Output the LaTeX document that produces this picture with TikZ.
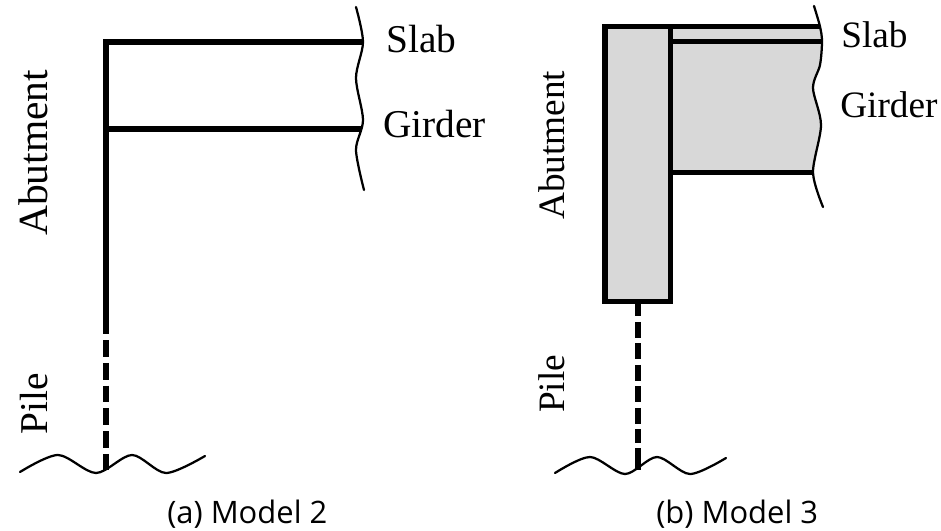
\documentclass[tikz,border=0pt]{standalone}
\usepackage{fontspec}
\setmainfont{Liberation Serif}
\newfontfamily\capfont{Open Sans}
\usetikzlibrary{positioning}
\definecolor{concrete}{HTML}{D8D8D8}
\tikzstyle{beam}=[draw=black, line width=3.8pt]
\tikzstyle{pilebar}=[draw=black, line width=3.8pt, dash pattern=on 12pt off 4.2pt]
\tikzstyle{pilebarb}=[draw=black, line width=3.8pt, dash pattern=on 11.4pt off 3.9pt, dash phase=2.6pt]
\tikzstyle{wave}=[draw=black, line width=1.6pt, line cap=round]
\tikzstyle{lbl}=[inner sep=0pt, anchor=base west, font=\fontsize{28}{30}\selectfont]
\tikzstyle{lblb}=[inner sep=0pt, anchor=base west, font=\fontsize{26.5}{30}\selectfont]
\tikzstyle{caption}=[inner sep=0pt, anchor=base west, font=\capfont\fontsize{22}{26}\selectfont]

\begin{document}
\begin{tikzpicture}[x=0.025cm, y=-0.025cm]
		\useasboundingbox (0,0) rectangle (941,531);

		% Model 2
		\coordinate (a1) at (106,42);
		\coordinate (a2) at (363,42);
		\coordinate (a3) at (106,129);
		\coordinate (a4) at (362,129);
		\coordinate (a5) at (106,334);
		\coordinate (a6) at (106,340);
		\coordinate (a7) at (106,470);

		\draw[style=beam] (a2) to (a1) to (a5);
		\draw[style=beam] (a3) to (a4);
		\draw[style=pilebar] (a6) to (a7);
		\draw[style=wave] plot[smooth] coordinates {(356,7) (363,42) (356,78) (363,120) (356,150) (364,190)};
		\draw[style=wave] plot[smooth] coordinates {(20,472) (58,455) (96,473) (132,455) (166,473) (205,456)};

		\node[style=lbl] (slabA) at (386,53) {Slab};
		\node[style=lbl] (girderA) at (383,138) {Girder};
		\node[style=lbl, rotate=90, font=\fontsize{29.5}{30}\selectfont] (abutA) at (47,236) {Abutment};
		\node[style=lbl, rotate=90] (pileA) at (47,435) {Pile};
		\node[style=caption] (capA) at (167,523.5) {(a) Model 2};

		% Model 3
		\coordinate (b1) at (605,26.5);
		\coordinate (b2) at (670.5,26.5);
		\coordinate (b3) at (820,26.5);
		\coordinate (b4) at (670.5,41.5);
		\coordinate (b5) at (822,41.5);
		\coordinate (b6) at (670.5,172.5);
		\coordinate (b7) at (813,172.5);
		\coordinate (b8) at (670.5,301.5);
		\coordinate (b10) at (638,304);
		\coordinate (b11) at (638,443);
		\coordinate (b12) at (638,448);
		\coordinate (b13) at (638,470);

		\fill[concrete] (b4) -- (b2) -- (b3) -- plot[smooth] coordinates {(820,26.5) (822,41.5) (820,65) (813,88) (821,125) (813,172.5)} -- (b6) -- cycle;
		\draw[style=beam, fill=concrete] (b1) rectangle (b8);
		\draw[style=beam] (b2) to (b3);
		\draw[style=beam] (b4) to (b5);
		\draw[style=beam] (b6) to (b7);
		\draw[style=pilebarb] (b10) to (b11);
		\draw[style=beam] (b12) to (b13);
		\draw[style=wave] plot[smooth] coordinates {(814,6) (820,26.5) (822,41.5) (820,65) (813,88) (821,125) (813,172.5) (823,207)};
		\draw[style=wave] plot[smooth] coordinates {(555,473) (590,457) (625,474) (657,457) (690,474) (726,458)};

		\node[style=lblb] (slabB) at (841,48) {Slab};
		\node[style=lblb] (girderB) at (840,118) {Girder};
		\node[style=lblb, rotate=90] (abutB) at (564,220) {Abutment};
		\node[style=lblb, rotate=90] (pileB) at (564,413) {Pile};
		\node[style=caption] (capB) at (656,523.5) {(b) Model 3};
	\end{tikzpicture}
\end{document}
